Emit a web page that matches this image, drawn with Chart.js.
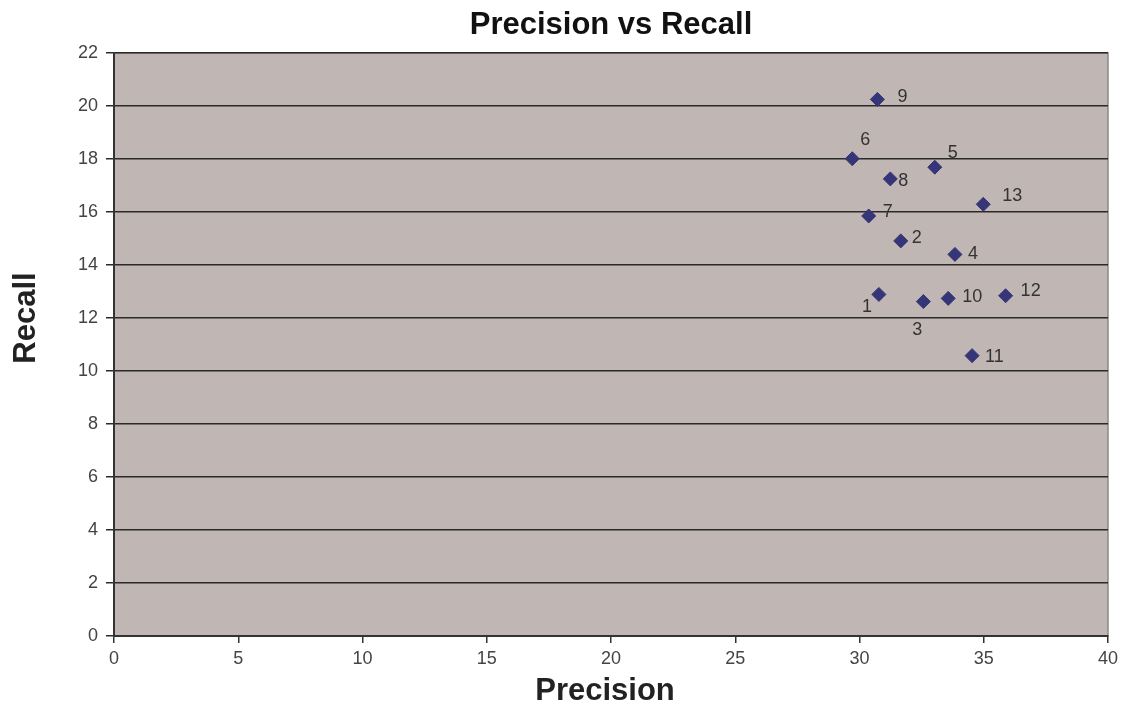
<!DOCTYPE html>
<html>
<head>
<meta charset="utf-8">
<script src="https://cdn.jsdelivr.net/npm/chart.js"></script>
<style>
html,body{margin:0;padding:0;background:#fff;}
#wrap{width:1124px;height:707px;position:relative;}
</style>
</head>
<body>
<div id="wrap"><canvas id="c" width="1124" height="707"></canvas></div>
<script>
// Data
const pointLabels = ['1','2','3','4','5','6','7','8','9','10','11','12','13'];
const precision = [30.78, 31.66, 32.57, 33.84, 33.03, 29.71, 30.37, 31.24, 30.72, 33.57, 34.53, 35.88, 34.98];
const recall    = [12.89, 14.91, 12.62, 14.40, 17.69, 18.01, 15.85, 17.25, 20.25, 12.74, 10.58, 12.84, 16.29];
const xTicks = [0, 5, 10, 15, 20, 25, 30, 35, 40];
const yTicks = [0, 2, 4, 6, 8, 10, 12, 14, 16, 18, 20, 22];
const chartTitle = 'Precision vs Recall';
const xTitle = 'Precision';
const yTitle = 'Recall';

const points = precision.map((p, i) => ({x: p, y: recall[i]}));

// label placement (dx, dy, align) relative to each marker
const labelPlacement = [
  [-12, 13, 'center'], [11, -3, 'left'], [-6, 28, 'center'], [13, 0, 'left'],
  [18, -14, 'center'], [13, -19, 'center'], [14, -4, 'left'], [8, 2, 'left'],
  [20, -2, 'left'], [14, -1, 'left'], [13, 1, 'left'], [15, -5, 'left'], [19, -8, 'left']
];

const FONT = '"Liberation Sans", Arial, sans-serif';

const plotBg = {
  id: 'plotBg',
  beforeDraw(chart) {
    const {ctx, chartArea: a} = chart;
    ctx.save();
    ctx.fillStyle = '#c0b6b3';
    ctx.fillRect(a.left, a.top, a.right - a.left, a.bottom - a.top);
    ctx.strokeStyle = '#8a8a8a';
    ctx.lineWidth = 1.5;
    ctx.strokeRect(a.left, a.top, a.right - a.left, a.bottom - a.top);
    ctx.restore();
  },
  afterDraw(chart) {
    const {ctx, chartArea: a} = chart;
    ctx.save();
    ctx.textAlign = 'center';
    ctx.textBaseline = 'middle';
    ctx.font = 'bold 31px ' + FONT;
    ctx.fillStyle = '#111';
    ctx.fillText(chartTitle, (a.left + a.right) / 2, 25);
    ctx.fillStyle = '#222';
    ctx.fillText(xTitle, (a.left + a.right) / 2 - 6, 691);
    ctx.translate(26, 318);
    ctx.rotate(-Math.PI / 2);
    ctx.fillText(yTitle, 0, 0);
    ctx.restore();
  }
};

const dataLabels = {
  id: 'dataLabels',
  afterDatasetsDraw(chart) {
    const {ctx} = chart;
    const meta = chart.getDatasetMeta(0);
    ctx.save();
    ctx.font = '18px ' + FONT;
    ctx.fillStyle = '#333';
    ctx.textBaseline = 'middle';
    meta.data.forEach((el, i) => {
      const [dx, dy, al] = labelPlacement[i];
      ctx.textAlign = al;
      ctx.fillText(pointLabels[i], el.x + dx, el.y + dy);
    });
    ctx.restore();
  }
};

new Chart(document.getElementById('c'), {
  type: 'scatter',
  data: {
    datasets: [{
      data: points,
      pointStyle: 'rectRot',
      pointRadius: 7,
      pointHoverRadius: 7,
      backgroundColor: '#353577',
      borderColor: '#353577',
      borderWidth: 1
    }]
  },
  options: {
    responsive: false,
    animation: false,
    layout: {padding: {top: 53, right: 16, left: 0, bottom: 0}},
    plugins: {legend: {display: false}, title: {display: false}, tooltip: {enabled: false}},
    scales: {
      x: {
        type: 'linear', min: 0, max: 40,
        afterBuildTicks(s) { s.ticks = xTicks.map(v => ({value: v})); },
        afterFit(s) { s.height = 71; },
        grid: {drawOnChartArea: false, drawTicks: true, tickLength: 7, color: '#333', lineWidth: 1.5},
        border: {display: true, color: '#333', width: 2},
        ticks: {color: '#444', font: {size: 18, family: FONT}, padding: 5, maxRotation: 0},
        title: {display: false}
      },
      y: {
        type: 'linear', min: 0, max: 22,
        afterBuildTicks(s) { s.ticks = yTicks.map(v => ({value: v})); },
        afterFit(s) { s.width = 114; },
        grid: {drawOnChartArea: true, drawTicks: true, tickLength: 8, color: '#2a2a2a', lineWidth: 1.5},
        border: {display: true, color: '#333', width: 2},
        ticks: {color: '#444', font: {size: 18, family: FONT}, padding: 8},
        title: {display: false}
      }
    }
  },
  plugins: [plotBg, dataLabels]
});
</script>
</body>
</html>
